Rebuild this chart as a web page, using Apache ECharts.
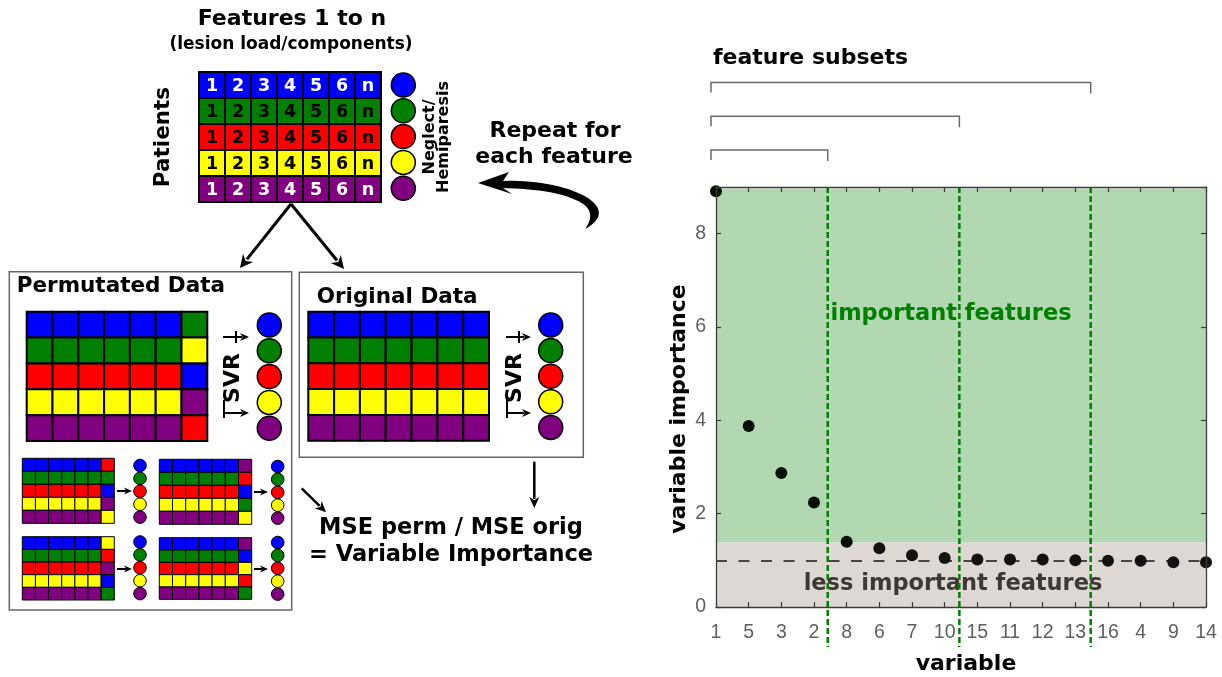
<!DOCTYPE html>
<html><head><meta charset="utf-8">
<script src="https://cdn.jsdelivr.net/npm/echarts@6/dist/echarts.min.js"></script>
<style>html,body{margin:0;padding:0;background:#fff}#c{width:1222px;height:677px}</style>
</head><body><div id="c"></div>
<script>
// ---------- data ----------
const varLabels = ['1','5','3','2','8','6','7','10','15','11','12','13','16','4','9','14'];
const importance = [8.91, 3.88, 2.87, 2.24, 1.40, 1.26, 1.11, 1.05, 1.02, 1.02, 1.02, 1.00, 0.99, 0.99, 0.96, 0.96];
const importantThreshold = 1.39;
const areaTop = 8.96;
const baselineValue = 1;
const subsetEnds = [3.42, 7.45, 11.47];
const yMax = 9;
const yInterval = 2;

const featureLabels = ['1','2','3','4','5','6','n'];
const rowColors = ['#0000ff','#008000','#ff0000','#ffff00','#800080'];
const rowTextColors = ['#ffffff','#000000','#000000','#000000','#ffffff'];
const permColumns = [
  ['#008000','#ffff00','#0000ff','#800080','#ff0000'],
  ['#ff0000','#008000','#0000ff','#800080','#ffff00'],
  ['#800080','#ff0000','#0000ff','#008000','#ffff00'],
  ['#ffff00','#ff0000','#800080','#0000ff','#008000'],
  ['#800080','#0000ff','#ffff00','#ff0000','#008000']
];

// ---------- diagram helpers ----------
const FF = '"DejaVu Sans", Verdana, sans-serif';
const bold = s => 'bold ' + s + 'px ' + FF;
const G = [];
function rect(x, y, w, h, fill, stroke, lw) {
  G.push({type:'rect', shape:{x:x, y:y, width:w, height:h},
    style:{fill:fill, stroke:stroke || null, lineWidth:lw || 0}});
}
function circ(cx, cy, r, fill, lw) {
  G.push({type:'circle', shape:{cx:cx, cy:cy, r:r}, style:{fill:fill, stroke:'#000', lineWidth:lw}});
}
function txt(x, y, s, size, opt) {
  opt = opt || {};
  const al = opt.align || 'center';
  G.push({type:'text', x:x, y:y, rotation:opt.rot || 0, z:opt.z || 5,
    style:{text:s, font:bold(size), fill:opt.fill || '#000',
      textAlign:al, align:al, textVerticalAlign:'middle', verticalAlign:'middle'}});
}
function arrow(x1, y1, x2, y2, lw, hl, hw) {
  const dx = x2 - x1, dy = y2 - y1, L = Math.hypot(dx, dy), ux = dx / L, uy = dy / L;
  const bx = x2 - ux * hl, by = y2 - uy * hl, nx = -uy, ny = ux;
  G.push({type:'line', shape:{x1:x1, y1:y1, x2:bx + ux * 2, y2:by + uy * 2},
    style:{stroke:'#000', lineWidth:lw}});
  G.push({type:'polygon', shape:{points:[[x2, y2], [bx + nx * hw / 2, by + ny * hw / 2],
    [bx + ux * hl * 0.3, by + uy * hl * 0.3], [bx - nx * hw / 2, by - ny * hw / 2]]},
    style:{fill:'#000'}});
}
function line(x1, y1, x2, y2, lw) {
  G.push({type:'line', shape:{x1:x1, y1:y1, x2:x2, y2:y2}, style:{stroke:'#000', lineWidth:lw}});
}
function dataGrid(x, y, w, h, lastCol, lw, labels) {
  const cw = w / 7, ch = h / 5;
  for (let r = 0; r < 5; r++) {
    for (let c = 0; c < 7; c++) {
      const fill = (lastCol && c === 6) ? lastCol[r] : rowColors[r];
      rect(x + c * cw, y + r * ch, cw, ch, fill, '#000', lw);
      if (labels) txt(x + c * cw + cw / 2, y + r * ch + ch / 2 + 1, featureLabels[c], 17.5, {fill:rowTextColors[r]});
    }
  }
}
function circles(cx, cy0, step, r, lw) {
  for (let i = 0; i < 5; i++) circ(cx, cy0 + i * step, r, rowColors[i], lw);
}
function svr(x1, x2, yTop, yBot, tx, ty) {
  arrow(x1, yTop, x2, yTop, 2, 9, 8);
  line(x1 + 13, yTop - 6, x1 + 13, yTop + 6, 2);
  arrow(x1, yBot, x2, yBot, 2, 9, 8);
  line(x1 + 1, yBot - 13, x1 + 1, yBot + 5, 2);
  txt(tx, ty, 'SVR', 22, {rot:Math.PI / 2});
}
// sample a chain of cubic bezier segments into polygon points
function bezierPoly(start, segs) {
  const pts = [start];
  let p0 = start;
  segs.forEach(function (s) {
    if (s.length === 1) { pts.push(s[0]); p0 = s[0]; return; }
    const p1 = s[0], p2 = s[1], p3 = s[2];
    for (let k = 1; k <= 16; k++) {
      const t = k / 16, u = 1 - t;
      pts.push([u*u*u*p0[0] + 3*u*u*t*p1[0] + 3*u*t*t*p2[0] + t*t*t*p3[0],
                u*u*u*p0[1] + 3*u*u*t*p1[1] + 3*u*t*t*p2[1] + t*t*t*p3[1]]);
    }
    p0 = p3;
  });
  return pts;
}

// ---------- diagram ----------
txt(292, 19, 'Features 1 to n', 22);
txt(291, 45, '(lesion load/components)', 17);
txt(163, 137, 'Patients', 21.5, {rot:Math.PI / 2});
dataGrid(199, 72, 182, 130, null, 2, true);
circles(403.3, 85, 25.8, 12, 1.5);
txt(429.5, 137, 'Neglect/', 16, {rot:Math.PI / 2});
txt(444, 137, 'Hemiparesis', 16, {rot:Math.PI / 2});

// arrows from patients grid
arrow(291, 204, 240, 268, 3, 13, 13);
arrow(291, 204, 344, 269, 3, 13, 13);

// repeat text & curved arrow
txt(555, 131, 'Repeat for', 22);
txt(554, 157, 'each feature', 22);
G.push({type:'polygon', shape:{points:bezierPoly([478, 183], [
  [[509, 172]], [[503, 181]],
  [[530, 180], [565, 184], [588, 198]],
  [[601, 207], [605, 218], [585, 229]],
  [[594, 217], [591, 207], [578, 201]],
  [[560, 192], [535, 189], [503, 188]],
  [[512, 194]]
])}, style:{fill:'#000'}});

// permutated box
rect(9.3, 271.7, 282.4, 338.3, '#fff', '#666', 1.5);
txt(16.7, 286, 'Permutated Data', 21.5, {align:'left'});
dataGrid(26.7, 311.7, 180.6, 129.3, permColumns[0], 2, false);
svr(223, 249, 337, 413, 233, 378);
circles(269.3, 325, 25.8, 12, 1.5);
const small = [[22.3, 458.3, 92, 65, 140, 465.5, 117, 132, 491],
               [159.3, 459.3, 92.4, 65, 277.7, 466.5, 254, 268, 492],
               [22.3, 536.7, 92, 63.3, 140, 542, 117, 132, 569],
               [159.3, 537.7, 92.4, 61.6, 277.7, 542.5, 254, 268, 569]];
small.forEach(function (s, i) {
  dataGrid(s[0], s[1], s[2], s[3], permColumns[i + 1], 1, false);
  circles(s[4], s[5], 12.9, 6.3, 1);
  arrow(s[6], s[8], s[7], s[8], 2, 8, 7);
});

// original box
rect(299.3, 272.3, 284, 185, '#fff', '#666', 1.5);
txt(316.7, 297.5, 'Original Data', 21.5, {align:'left'});
dataGrid(308.3, 311.7, 180.7, 129, null, 2, false);
svr(506, 531, 337, 413, 515, 378);
circles(550.7, 325, 25.6, 12, 1.5);

// to MSE
arrow(301.7, 488.3, 326, 512.3, 2.5, 11, 10);
arrow(534.3, 461.7, 534.3, 508, 2.5, 11, 10);
txt(451, 528.5, 'MSE perm / MSE orig', 22.5);
txt(451, 555, '= Variable Importance', 22.5);

// chart titles (axis names placed as text)
txt(713, 58, 'feature subsets', 22, {align:'left'});
txt(679, 409, 'variable importance', 22, {rot:Math.PI / 2});
txt(966, 664, 'variable', 22);

// ---------- chart ----------
const chart = echarts.init(document.getElementById('c'));
const axisCol = '#3c3c3c';
const tickFont = {fontSize:19.5, color:'#5f5f5f', fontFamily:'"Liberation Sans", Arial, sans-serif'};
function frameAxis(extra) {
  return Object.assign({
    z:10, splitLine:{show:false},
    axisLine:{show:true, onZero:false, lineStyle:{color:axisCol, width:1.3}},
    axisTick:{show:true, inside:true, length:5, lineStyle:{color:axisCol, width:1.2}}
  }, extra);
}

chart.setOption({
  animation:false,
  backgroundColor:'#fff',
  grid:{left:716, right:16, top:187, bottom:70, containLabel:false, outerBoundsMode:'none'},
  xAxis:[
    frameAxis({type:'value', min:0, max:varLabels.length - 1, interval:1, position:'bottom',
      axisLabel:Object.assign({margin:16, formatter:function (v) { return varLabels[v] || ''; }}, tickFont)}),
    frameAxis({type:'value', min:0, max:varLabels.length - 1, interval:1, position:'top',
      axisLabel:{show:false}})
  ],
  yAxis:[
    frameAxis({type:'value', min:0, max:yMax, interval:yInterval, position:'left',
      axisLabel:Object.assign({margin:10, showMaxLabel:false,
        formatter:function (v) { return v % yInterval === 0 ? String(v) : ''; }}, tickFont)}),
    frameAxis({type:'value', min:0, max:yMax, interval:yInterval, position:'right',
      axisLabel:{show:false}})
  ],
  series:[{
    type:'scatter', xAxisIndex:0, yAxisIndex:0, z:6, clip:false,
    symbol:'circle', symbolSize:12,
    data:importance.map(function (v, i) {
      return {value:[i, v], itemStyle:{opacity:1, color: v > importantThreshold ? '#051005' : '#141210'}};
    }),
    markArea:{
      silent:true,
      data:[
        [{yAxis:0, itemStyle:{color:'#ddd8d4'},
          label:{show:true, position:'inside', offset:[-8, 10], formatter:'less important features',
            fontSize:22.5, fontWeight:'bold', fontFamily:FF, color:'#3f3833'}},
         {yAxis:importantThreshold}],
        [{yAxis:importantThreshold, itemStyle:{color:'#b2d8b2'},
          label:{show:true, position:'inside', offset:[-10, -51], formatter:'important features',
            fontSize:22.5, fontWeight:'bold', fontFamily:FF, color:'#008000'}},
         {yAxis:areaTop}]
      ]
    },
    markLine:{
      silent:true, symbol:'none', label:{show:false},
      lineStyle:{color:'#4a4542', type:[11, 11.5], width:2},
      data:[{yAxis:baselineValue}]
    }
  }, {
    type:'custom', xAxisIndex:0, yAxisIndex:0, z:5, clip:false, silent:true,
    encode:{x:0, y:1},
    data:subsetEnds.map(function (x) { return [x, 0]; }),
    renderItem:function (params, api) {
      const i = params.dataIndex;
      const x = api.coord([api.value(0), yMax])[0];
      const top = api.coord([0, yMax])[1];
      const bottom = api.coord([0, 0])[1] + 40;
      const left = api.coord([0, 0])[0] - 5;
      const by = 150 - i * 33.7;
      return {type:'group', children:[
        {type:'line', shape:{x1:x, y1:top, x2:x, y2:bottom},
          style:{stroke:'#008000', lineWidth:2.5, lineDash:[6, 3]}},
        {type:'polyline', shape:{points:[[left, by + 10], [left, by], [x, by], [x, by + 11]]},
          style:{stroke:'#6a6a6a', lineWidth:1.5, fill:null}}
      ]};
    }
  }, {
    type:'scatter', xAxisIndex:1, yAxisIndex:1, data:[], silent:true
  }],
  graphic:{elements:G}
});
</script>
</body></html>
